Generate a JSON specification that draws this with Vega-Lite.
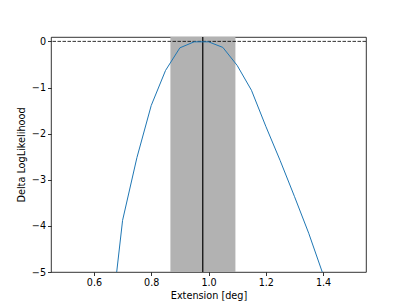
{
  "$schema": "https://vega.github.io/schema/vega-lite/v6.json",
  "width": 315,
  "height": 235,
  "autosize": {"type": "none"},
  "padding": {"left": 51, "top": 37, "right": 41, "bottom": 33},
  "background": "white",
  "config": {
    "view": {"stroke": "black", "strokeWidth": 0.8},
    "axis": {
      "domain": false,
      "grid": false,
      "ticks": true,
      "tickSize": 3.5,
      "tickWidth": 0.8,
      "tickColor": "black",
      "labelFont": "DejaVu Sans",
      "labelFontSize": 9.6,
      "labelColor": "black",
      "labelPadding": 2,
      "titleFont": "DejaVu Sans",
      "titleFontSize": 9.7,
      "titleFontWeight": "normal",
      "titleColor": "black"
    }
  },
  "datasets": {
    "curve": [
      {"ext": 0.5, "dll": -12.0},
      {"ext": 0.55, "dll": -9.5},
      {"ext": 0.6, "dll": -8.0},
      {"ext": 0.65, "dll": -6.6},
      {"ext": 0.7, "dll": -3.88},
      {"ext": 0.75, "dll": -2.52},
      {"ext": 0.8, "dll": -1.39},
      {"ext": 0.85, "dll": -0.63},
      {"ext": 0.9, "dll": -0.14},
      {"ext": 0.95, "dll": -0.01},
      {"ext": 1.0, "dll": -0.01},
      {"ext": 1.05, "dll": -0.13},
      {"ext": 1.1, "dll": -0.52},
      {"ext": 1.15, "dll": -1.06},
      {"ext": 1.2, "dll": -1.84},
      {"ext": 1.25, "dll": -2.58},
      {"ext": 1.3, "dll": -3.36},
      {"ext": 1.35, "dll": -4.16},
      {"ext": 1.4, "dll": -5.05},
      {"ext": 1.45, "dll": -6.0},
      {"ext": 1.5, "dll": -7.0}
    ],
    "band": [{"lo": 0.867, "hi": 1.094}],
    "best": [{"ext": 0.98}],
    "zero": [{"y": 0}]
  },
  "layer": [
    {
      "data": {"name": "band"},
      "mark": {"type": "rect", "color": "#b2b2b2", "opacity": 1},
      "encoding": {
        "x": {"field": "lo", "type": "quantitative", "scale": {"domain": [0.45, 1.55], "nice": false, "zero": false},
          "axis": {"values": [0.6, 0.8, 1.0, 1.2, 1.4], "format": ".1f", "title": "Extension [deg]", "titlePadding": 3}},
        "x2": {"field": "hi"}
      }
    },
    {
      "data": {"name": "zero"},
      "mark": {"type": "rule", "color": "black", "strokeWidth": 0.95, "strokeDash": [3.5, 1.5], "opacity": 0.85},
      "encoding": {
        "y": {"field": "y", "type": "quantitative"}
      }
    },
    {
      "data": {"name": "best"},
      "mark": {"type": "rule", "color": "black", "strokeWidth": 1.2},
      "encoding": {
        "x": {"field": "ext", "type": "quantitative"}
      }
    },
    {
      "data": {"name": "curve"},
      "mark": {"type": "line", "color": "#1f77b4", "strokeWidth": 1.0, "clip": true},
      "encoding": {
        "x": {"field": "ext", "type": "quantitative"},
        "y": {"field": "dll", "type": "quantitative", "scale": {"domain": [-5, 0.095], "nice": false, "zero": false},
          "axis": {"values": [0, -1, -2, -3, -4, -5], "format": "d", "title": "Delta LogLikelihood", "titlePadding": 5}}
      }
    }
  ]
}
